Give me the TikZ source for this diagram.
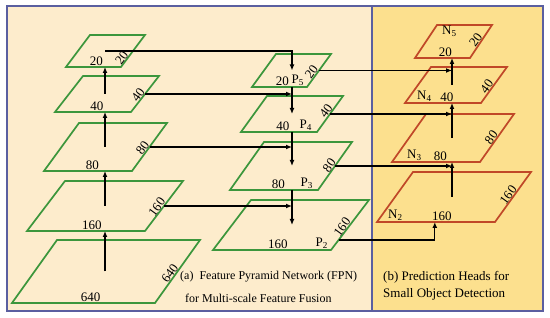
\documentclass[tikz,border=0pt]{standalone}
\usepackage{fontspec}
\setmainfont{Liberation Serif}
\usetikzlibrary{arrows.meta, calc, positioning}
\definecolor{cGreen}{RGB}{60,150,60}
\definecolor{cRed}{RGB}{192,72,40}
\definecolor{cPeach}{RGB}{253,236,204}
\definecolor{cSand}{RGB}{252,224,142}
\definecolor{cFrame}{RGB}{90,95,160}
\tikzset{
	fmapG/.style={draw=cGreen, line width=1.7pt},
	fmapR/.style={draw=cRed, line width=1.7pt},
	numlbl/.style={font=\fontsize{13}{15}\selectfont, inner sep=1pt, anchor=south},
	sidelbl/.style={font=\fontsize{13}{15}\selectfont, inner sep=0.5pt, anchor=south, rotate=54},
	maplbl/.style={font=\fontsize{13}{15}\selectfont, inner sep=1pt},
	captionA/.style={font=\fontsize{12}{14}\selectfont, anchor=west, inner sep=0pt},
	captionB/.style={font=\fontsize{13}{15}\selectfont, anchor=west, inner sep=0pt},
	flowarrow/.style={-{Latex[length=6pt, width=5pt]}, line width=1.2pt},
}

\begin{document}
\begin{tikzpicture}[x=1pt, y=-1pt]
	\useasboundingbox (0,0) rectangle (550,318);
	% panels
	\fill[cPeach] (7,6) rectangle (372,311);
	\fill[cSand] (372,6) rectangle (543,311);
	\draw[cFrame, line width=1.2pt] (7,6) rectangle (543,311);
	\draw[cFrame, line width=1.2pt] (372,6) -- (372,311);
	% backbone
	\foreach \nm/\x/\y/\w/\h/\d/\t/\val in {L640/12/303/143/63/45/0.42/640, L160/27/231/118/50/38/0.42/160, L80/44/171/88/48/35/0.42/80, L40/55/112/76/36/28/0.4/40, L20/66/67/55/32/24/0.2/20} {
		\coordinate (\nm-bl) at (\x,\y);
		\coordinate (\nm-br) at (\x+\w,\y);
		\coordinate (\nm-tr) at (\x+\w+\d,\y-\h);
		\coordinate (\nm-tl) at (\x+\d,\y-\h);
		\coordinate (\nm-c) at (105,\y-\h/2);
		\coordinate (\nm-e) at ($(\nm-br)!0.5!(\nm-tr)$);
		\draw[fmapG] (\nm-bl) -- (\nm-br) -- (\nm-tr) -- (\nm-tl) -- cycle;
		\node[numlbl] (\nm-num) at ($(\nm-bl)!0.55!(\nm-br)$) {\val};
		\node[sidelbl] (\nm-side) at ($(\nm-br)!\t!(\nm-tr)$) {\val};
	}
	% top-down pathway
	\foreach \nm/\x/\y/\w/\h/\d/\t/\val in {P5/252/87/55/33/24/0.36/20, P4/241/132/76/36/26/0.5/40, P3/230/190/88/48/34/0.45/80, P2/213/250/118/50/38/0.4/160} {
		\coordinate (\nm-bl) at (\x,\y);
		\coordinate (\nm-br) at (\x+\w,\y);
		\coordinate (\nm-tr) at (\x+\w+\d,\y-\h);
		\coordinate (\nm-tl) at (\x+\d,\y-\h);
		\coordinate (\nm-c) at (292,\y-\h/2);
		\coordinate (\nm-e) at ($(\nm-br)!0.5!(\nm-tr)$);
		\draw[fmapG] (\nm-bl) -- (\nm-br) -- (\nm-tr) -- (\nm-tl) -- cycle;
		\node[numlbl] (\nm-num) at ($(\nm-bl)!0.55!(\nm-br)$) {\val};
		\node[sidelbl] (\nm-side) at ($(\nm-br)!\t!(\nm-tr)$) {\val};
	}
	% prediction heads
	\foreach \nm/\x/\y/\w/\h/\d/\t/\val in {N5/415/58/55/33/22/0.45/20, N4/405/103/76/36/26/0.38/40, N3/392/162/88/48/34/0.45/80, N2/377/222/118/50/36/0.48/160} {
		\coordinate (\nm-bl) at (\x,\y);
		\coordinate (\nm-br) at (\x+\w,\y);
		\coordinate (\nm-tr) at (\x+\w+\d,\y-\h);
		\coordinate (\nm-tl) at (\x+\d,\y-\h);
		\coordinate (\nm-c) at (452,\y-\h/2);
		\draw[fmapR] (\nm-bl) -- (\nm-br) -- (\nm-tr) -- (\nm-tl) -- cycle;
		\node[numlbl] (\nm-num) at ($(\nm-bl)!0.55!(\nm-br)$) {\val};
		\node[sidelbl] (\nm-side) at ($(\nm-br)!\t!(\nm-tr)$) {\val};
	}
	\node[maplbl, anchor=south east, xshift=-2pt] (P5-lbl) at (P5-br) {P\textsubscript{5}};
	\node[maplbl, anchor=south east, xshift=-4pt] (P4-lbl) at (P4-br) {P\textsubscript{4}};
	\node[maplbl, anchor=south east, xshift=-4pt] (P3-lbl) at (P3-br) {P\textsubscript{3}};
	\node[maplbl, anchor=south east, xshift=-2pt] (P2-lbl) at (P2-br) {P\textsubscript{2}};
	\node[maplbl, anchor=north west, xshift=4pt] (N5-lbl) at (N5-tl) {N\textsubscript{5}};
	\node[maplbl, anchor=south west, xshift=11pt] (N4-lbl) at (N4-bl) {N\textsubscript{4}};
	\node[maplbl, anchor=south west, xshift=14pt] (N3-lbl) at (N3-bl) {N\textsubscript{3}};
	\node[maplbl, anchor=south west, xshift=10pt] (N2-lbl) at (N2-bl) {N\textsubscript{2}};
	% connections
	\foreach \a/\b in {L640/L160, L160/L80, L80/L40, L40/L20}
		\draw[flowarrow] (\a-c) -- (\a-c |- \b-bl);
	\draw[flowarrow] (L20-c) -| (P5-c);
	\foreach \a/\b in {P5/P4, P4/P3, P3/P2}
		\draw[flowarrow] (\a-bl -| \a-c) -- (\b-c);
	\foreach \a/\b in {L40/P5, L80/P4, L160/P3}
		\draw[flowarrow] (\a-e) -- (\a-e -| \b-c);
	\foreach \a/\b in {P5/N5, P4/N4, P3/N3}
		\draw[flowarrow] (\a-e) -- (\a-e -| \b-c);
	\foreach \a/\b in {N2/N3, N3/N4, N4/N5}
		\draw[flowarrow] (\a-c) -- (\a-c |- \b-bl);
	\coordinate (P2-s) at ($(P2-br)!0.2!(P2-tr)$);
	\coordinate (N2-in) at ($(N2-bl)!0.49!(N2-br)$);
	\draw[flowarrow] (P2-s) -| (N2-in);
	% captions
	\node[captionA] (capA1) at (180,277) {(a)\ \ Feature Pyramid Network (FPN)};
	\node[captionA] (capA2) at (185,298) {for Multi-scale Feature Fusion};
	\node[captionB] (capB1) at (383,277) {(b) Prediction Heads for};
	\node[captionB] (capB2) at (383,294) {Small Object Detection};
\end{tikzpicture}
\end{document}
